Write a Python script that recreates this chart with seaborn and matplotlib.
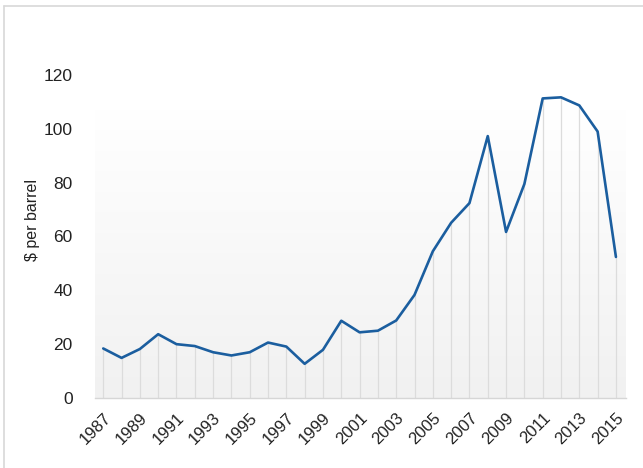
import numpy as np
import pandas as pd
import matplotlib
matplotlib.use("Agg")
import matplotlib.pyplot as plt
import seaborn as sns
from matplotlib.lines import Line2D

years = list(range(1987, 2016))
prices = [18.4, 14.9, 18.2, 23.7, 20.0, 19.3, 17.0, 15.8, 17.0, 20.6,
          19.1, 12.7, 17.9, 28.7, 24.4, 25.0, 28.8, 38.3, 54.5, 65.1,
          72.4, 97.3, 61.7, 79.5, 111.3, 111.7, 108.7, 99.0, 52.4]
tick_years = list(range(1987, 2016, 2))
y_ticks = [0, 20, 40, 60, 80, 100, 120]
y_label = "$ per barrel"

df = pd.DataFrame({"year": years, "price": prices})

sns.set_style("white")
plt.rcParams['font.family'] = ['Liberation Sans', 'DejaVu Sans']

fig = plt.figure(figsize=(6.43, 4.68), dpi=100)
ax = fig.add_axes([95/643, 70/468, 531/643, 323/468])

x0, x1 = 1986.55, 2015.55
ax.set_xlim(x0, x1)
ax.set_ylim(0, 120)

# gradient background (white at top, light grey at bottom)
grad = np.linspace(0, 1, 256).reshape(-1, 1)
ax.imshow(grad, extent=(x0, x1, 0, 107), aspect='auto', origin='upper',
          cmap=matplotlib.colors.LinearSegmentedColormap.from_list(
              "g", ["#ffffff", "#f1f1f1"]), zorder=0, interpolation='bilinear')

# drop lines
ax.vlines(df["year"], 0, df["price"], color="#dcdcdc", linewidth=0.9, zorder=1)

sns.lineplot(data=df, x="year", y="price", ax=ax, color="#1b5e9f",
             linewidth=1.9, zorder=3)

ax.set_xticks(tick_years)
ax.set_xticklabels([str(y) for y in tick_years], rotation=45, ha='right',
                   rotation_mode='anchor', fontsize=12, color="#222222")
ax.set_yticks(y_ticks)
ax.set_yticklabels([str(v) for v in y_ticks], fontsize=12.5, color="#222222")
ax.tick_params(axis='x', length=0, pad=9)
ax.tick_params(axis='y', length=0, pad=16)
ax.set_xlabel("")
ax.set_ylabel("")

for s in ["top", "right", "left"]:
    ax.spines[s].set_visible(False)
ax.spines["bottom"].set_color("#d6d6d6")
ax.spines["bottom"].set_linewidth(1.0)

fig.text(33/643, 1 - 220/468, y_label, rotation=90, ha='center', va='center',
         fontsize=11.5, color="#222222")

# outer frame lines (top and left)
fig.add_artist(Line2D([4/643, 1], [1 - 6/468, 1 - 6/468], color="#d8d8d8",
                      linewidth=1.2, transform=fig.transFigure))
fig.add_artist(Line2D([4/643, 4/643], [0, 1 - 6/468], color="#d8d8d8",
                      linewidth=1.2, transform=fig.transFigure))

fig.savefig("out.png", dpi=100)
